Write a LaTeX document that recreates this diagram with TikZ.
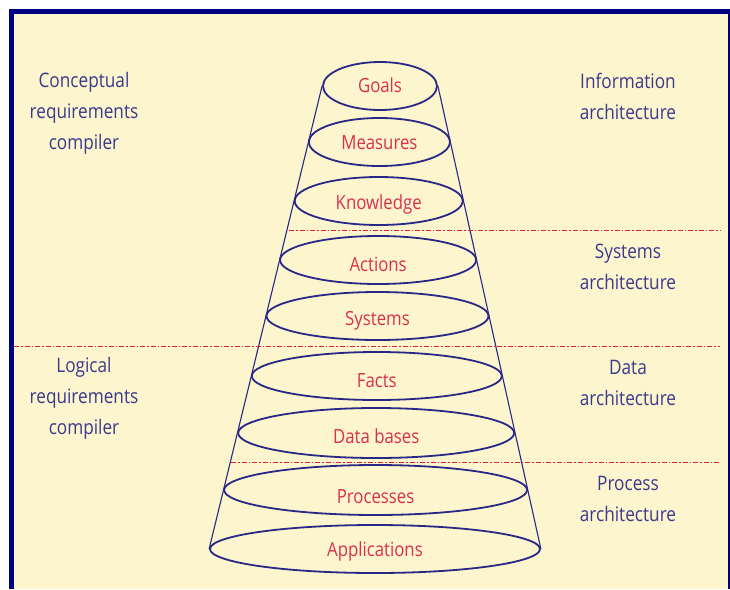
\documentclass[tikz,border=0pt]{standalone}
\usepackage{fontspec}
\setmainfont{Open Sans}[FakeStretch=0.86]
\usepackage{tikz}
\usetikzlibrary{shapes.geometric}

\definecolor{paper}{RGB}{253,245,206}
\definecolor{frame}{RGB}{0,0,128}
\definecolor{cone}{RGB}{40,40,135}
\definecolor{layertext}{RGB}{218,48,78}
\definecolor{sidetext}{RGB}{58,58,140}
\definecolor{split}{RGB}{222,30,60}

\tikzset{
  layer/.style={ellipse, draw=cone, line width=1.8pt, text=layertext, inner sep=0pt,
    text depth=0pt, text height=14.5pt, font=\fontsize{19.5}{22}\selectfont},
  sidelabel/.style={text=sidetext, align=center, font=\fontsize{20}{31}\selectfont},
  splitline/.style={split, line width=0.9pt, dash pattern=on 5pt off 2pt on 1.5pt off 2pt},
}

\begin{document}
\begin{tikzpicture}[x=1pt,y=-1pt]
		\useasboundingbox (0,0) rectangle (730,589);
		\fill [paper] (9,9) rectangle (729,589);
		\fill [frame] (9,9) rectangle (729,14); % top
		\fill [frame] (9,9) rectangle (14,589); % left
		\fill [frame] (727.5,9) rectangle (729.5,589); % right
		% layers of the cone
		\node [layer, minimum width=114pt, minimum height=48pt, text height=12.5pt] (goals) at (380,86) {Goals};
		\node [layer, minimum width=141pt, minimum height=48pt] (measures) at (379.4,142) {Measures};
		\node [layer, minimum width=168pt, minimum height=48pt, text height=16.5pt] (knowledge) at (378.7,201) {Knowledge};
		\node [layer, minimum width=196pt, minimum height=48pt, text height=22.5pt] (actions) at (378.1,260) {Actions};
		\node [layer, minimum width=222pt, minimum height=48pt, text height=18.5pt] (systems) at (377.5,316) {Systems};
		\node [layer, minimum width=250pt, minimum height=48pt, text height=22.5pt] (facts) at (376.8,376) {Facts};
		\node [layer, minimum width=276pt, minimum height=50pt, text height=20.5pt] (databases) at (376.2,433) {Data bases};
		\node [layer, minimum width=303pt, minimum height=50pt, text height=26.5pt] (processes) at (375.6,490) {Processes};
		\node [layer, minimum width=330pt, minimum height=48pt] (applications) at (375,549) {Applications};
		% sides of the cone
		\draw [cone, line width=1.1pt] (goals.west) to (applications.west);
		\draw [cone, line width=1.1pt] (goals.east) to (applications.east);
		% dividing lines
		\coordinate (cut1) at (289,230);
		\coordinate (cut2) at (14,346);
		\coordinate (cut3) at (231,462);
		\draw [splitline] (cut1) to (720,230);
		\draw [splitline] (cut2) to (720,346);
		\draw [splitline] (cut3) to (720,462);
		% labels
		\node [sidelabel] (conceptual) at (84,113) {Conceptual\\requirements\\compiler};
		\node [sidelabel] (logical) at (84,398) {Logical\\requirements\\compiler};
		\node [sidelabel] (information) at (628,96) {Information\\architecture};
		\node [sidelabel] (systemsarch) at (628,267) {Systems\\architecture};
		\node [sidelabel] (dataarch) at (628,383) {Data\\architecture};
		\node [sidelabel] (processarch) at (628,499) {Process\\architecture};
\end{tikzpicture}
\end{document}
